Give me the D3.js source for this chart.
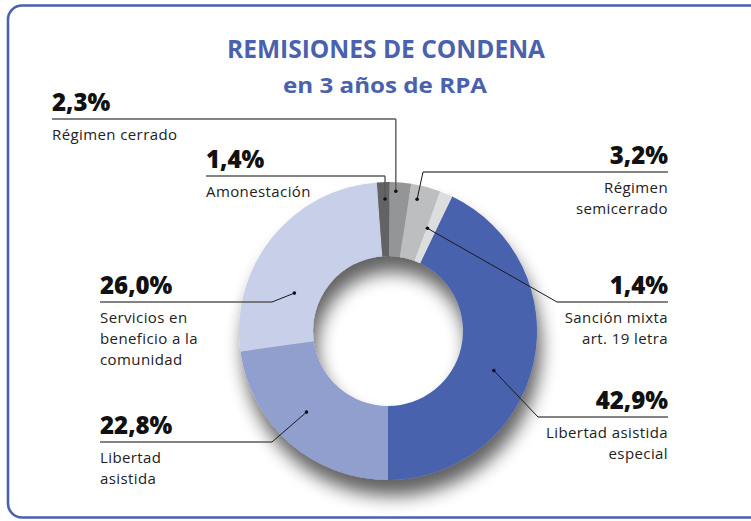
<!DOCTYPE html>
<html>
<head>
<meta charset="utf-8">
<script src="https://cdn.jsdelivr.net/npm/d3@7"></script>
<style>
    body { margin: 0; background: #fff; }
    svg { display: block; font-family: "Open Sans", sans-serif; }
</style>
</head>
<body>
<div id="chart"></div>
<script>
// data, in drawing order (clockwise from the bottom)
const categories = ["Libertad asistida", "Servicios en beneficio a la comunidad", "Amonestación",
    "Régimen cerrado", "Régimen semicerrado", "Sanción mixta art. 19 letra", "Libertad asistida especial"]
const values = [22.8, 26.0, 1.4, 2.3, 3.2, 1.4, 42.9]
const labelLines = [["Libertad", "asistida"], ["Servicios en", "beneficio a la", "comunidad"], ["Amonestación"],
    ["Régimen cerrado"], ["Régimen", "semicerrado"], ["Sanción mixta", "art. 19 letra"], ["Libertad asistida", "especial"]]
const colors = ["#909fcd", "#c8cfe8", "#636466", "#949597", "#bdbec0", "#dcdddf", "#4a62ae"]

// label layout: side, rule y, rule start/end x, dot placement inside the slice (t along slice, r radius)
const layout = [
    {side: "left", y: 442, x0: 100, x1: 272, t: 0.55, r: 115},
    {side: "left", y: 302, x0: 100, x1: 272, t: 0.32, r: 101},
    {side: "left", y: 176, x0: 206, x1: 383, t: 0.6, r: 132, elbow: "v"},
    {side: "left", y: 119, x0: 52, x1: 395, t: 0.3, r: 140, elbow: "v"},
    {side: "right", y: 172, x0: 423, x1: 668, t: 0.3, r: 135},
    {side: "right", y: 302, x0: 557, x1: 668, t: 0.1, r: 110},
    {side: "right", y: 417, x0: 538, x1: 668, t: 0.55, r: 113},
]

const width = 751, height = 521
const cx = 388, cy = 331, outerR = 149, innerR = 75
const fmt = v => d3.format(".1f")(v).replace(".", ",") + "%"

const svg = d3.select("#chart").append("svg")
    .attr("width", width)
    .attr("height", height)

const defs = svg.append("defs")
const shadow = defs.append("filter").attr("id", "shadow")
    .attr("x", "-25%").attr("y", "-25%").attr("width", "150%").attr("height", "150%")
shadow.append("feGaussianBlur").attr("in", "SourceAlpha").attr("stdDeviation", 9)
shadow.append("feOffset").attr("dx", 4).attr("dy", 16).attr("result", "off")
shadow.append("feComponentTransfer").append("feFuncA").attr("type", "linear").attr("slope", 0.62)
const merge = shadow.append("feMerge")
merge.append("feMergeNode")
merge.append("feMergeNode").attr("in", "SourceGraphic")

// frame
svg.append("rect")
    .attr("x", 8).attr("y", 5.5)
    .attr("width", 780).attr("height", 512)
    .attr("rx", 14)
    .attr("fill", "none")
    .attr("stroke", "#4a62ae")
    .attr("stroke-width", 2.6)

// title
svg.append("text")
    .attr("x", 386).attr("y", 58)
    .attr("text-anchor", "middle")
    .attr("fill", "#4a62ae")
    .attr("font-weight", 700)
    .attr("font-size", 25)
    .attr("textLength", 318)
    .attr("lengthAdjust", "spacingAndGlyphs")
    .text("REMISIONES DE CONDENA")
svg.append("text")
    .attr("x", 385).attr("y", 93)
    .attr("text-anchor", "middle")
    .attr("fill", "#4a62ae")
    .attr("font-weight", 700)
    .attr("font-size", 22)
    .attr("textLength", 204)
    .attr("lengthAdjust", "spacingAndGlyphs")
    .text("en 3 años de RPA")

const pie = d3.pie().sort(null).startAngle(Math.PI).endAngle(3 * Math.PI)
const arcs = pie(values)
const arc = d3.arc().innerRadius(innerR).outerRadius(outerR)

const g = svg.append("g").attr("transform", `translate(${cx},${cy})`)
const ring = g.append("g").attr("filter", "url(#shadow)")
ring.selectAll("path")
    .data(arcs)
    .join("path")
    .attr("d", arc)
    .attr("fill", (d, i) => colors[i])

// labels
arcs.forEach((d, i) => {
    const L = layout[i]
    const a = d.startAngle + (d.endAngle - d.startAngle) * L.t
    const px = cx + L.r * Math.sin(a), py = cy - L.r * Math.cos(a)
    const ex = L.side === "left" ? L.x1 : L.x0
    const rx = L.elbow === "v" ? px : ex

    svg.append("line")
        .attr("x1", L.x0).attr("x2", L.elbow === "v" && L.side === "left" ? px : L.x1)
        .attr("y1", L.y).attr("y2", L.y)
        .attr("stroke", "#5a5a5a").attr("stroke-width", 1.5)
    svg.append("line")
        .attr("x1", rx).attr("y1", L.y)
        .attr("x2", px).attr("y2", py)
        .attr("stroke", L.elbow === "v" ? "#5a5a5a" : "#1a1a1a")
        .attr("stroke-width", L.elbow === "v" ? 1.4 : 1)
    svg.append("circle")
        .attr("cx", px).attr("cy", py).attr("r", 1.8)
        .attr("fill", "#111")

    const tx = L.side === "left" ? L.x0 : L.x1
    const anchor = L.side === "left" ? "start" : "end"
    svg.append("text")
        .attr("x", tx).attr("y", L.y - 8)
        .attr("text-anchor", anchor)
        .attr("font-weight", 800)
        .attr("font-size", 24)
        .attr("fill", "#111")
        .text(fmt(values[i]))
    const t = svg.append("text")
        .attr("text-anchor", anchor)
        .attr("font-size", 15)
        .attr("letter-spacing", 0.4)
        .attr("fill", "#222")
    labelLines[i].forEach((s, k) => {
        t.append("tspan").attr("x", tx).attr("y", L.y + 21 + k * 21).text(s)
    })
})
</script>
</body>
</html>
